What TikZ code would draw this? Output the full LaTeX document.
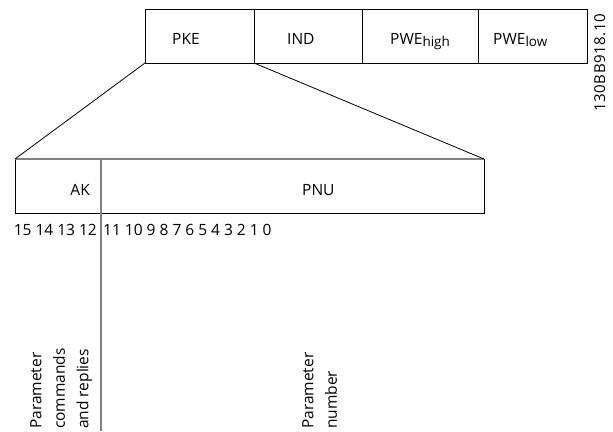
\documentclass[tikz,border=0pt]{standalone}
\usepackage{fontspec}
\setmainfont{Open Sans}
\usetikzlibrary{calc}

\tikzset{
  cell/.style={draw, line width=0.8pt, rectangle, inner sep=0pt, outer sep=0pt,
    minimum height=54pt, anchor=north west},
  lowcell/.style={cell, draw=black},
  txt/.style={inner sep=0pt, font=\fontsize{15.5}{23.5}\selectfont},
  sidetxt/.style={txt, rotate=90, anchor=north west, align=left}
}

\newcommand{\subtxt}[1]{\raisebox{-0.35ex}{\fontsize{13.5}{13.5}\selectfont #1}}

\begin{document}
\begin{tikzpicture}[x=1pt, y=-1pt]
  \useasboundingbox (0,0) rectangle (613,431);

  % Telegram frame
  \node[cell, minimum width=109pt] (pke) at (145,9) {};
  \node[cell, minimum width=108pt] (ind) at (pke.north east) {};
  \node[cell, minimum width=116pt] (pwehigh) at (ind.north east) {};
  \node[cell, minimum width=109pt] (pwelow) at (pwehigh.north east) {};

  \node[txt, anchor=base west] (pketxt) at ($(pke.north west)+(27,35)$) {PKE};
  \node[txt, anchor=base west] (indtxt) at ($(ind.north west)+(33,35)$) {IND};
  \node[txt, anchor=base west] (pwehightxt) at ($(pwehigh.north west)+(28,35)$) {PWE\subtxt{high}};
  \node[txt, anchor=base west] (pwelowtxt) at ($(pwelow.north west)+(15,35)$) {PWE\subtxt{low}};

  % PKE word
  \node[lowcell, minimum width=86pt] (ak) at (15,159) {};
  \node[lowcell, minimum width=383pt] (pnu) at (ak.north east) {};
  \draw[gray, line width=1.6pt] (ak.north west) -- (pnu.north east);

  \node[txt, anchor=base east] (aktxt) at ($(ak.north east)+(-11,36)$) {AK};
  \node[txt, anchor=base west] (pnutxt) at ($(pnu.north west)+(201,36)$) {PNU};

  % Zoom lines
  \draw[line width=0.8pt] (pke.south west) -- (ak.north west);
  \draw[line width=0.8pt] (pke.south east) -- (pnu.north east);

  % Bit numbers
  \node[txt, anchor=base east] (bitshigh) at ($(ak.south east)+(-4,22)$) {15 14 13 12};
  \node[txt, anchor=base west] (bitslow) at ($(ak.south east)+(2,22)$) {11 10 9 8 7 6 5 4 3 2 1 0};

  % Split between AK and PNU
  \coordinate (bitend) at (101,431);
  \draw[gray, line width=1.6pt] (ak.north east) -- (bitend);

  % Field descriptions
  \node[sidetxt] (akdesc) at (30,429) {Parameter\\commands\\and replies};
  \node[sidetxt] (pnudesc) at (302,429) {Parameter\\number};

  % Drawing number
  \node[txt, rotate=90, anchor=north west, font=\fontsize{15}{15}\selectfont\addfontfeature{LetterSpace=4}] (drawno) at (594,112) {130BB918.10};
\end{tikzpicture}
\end{document}
